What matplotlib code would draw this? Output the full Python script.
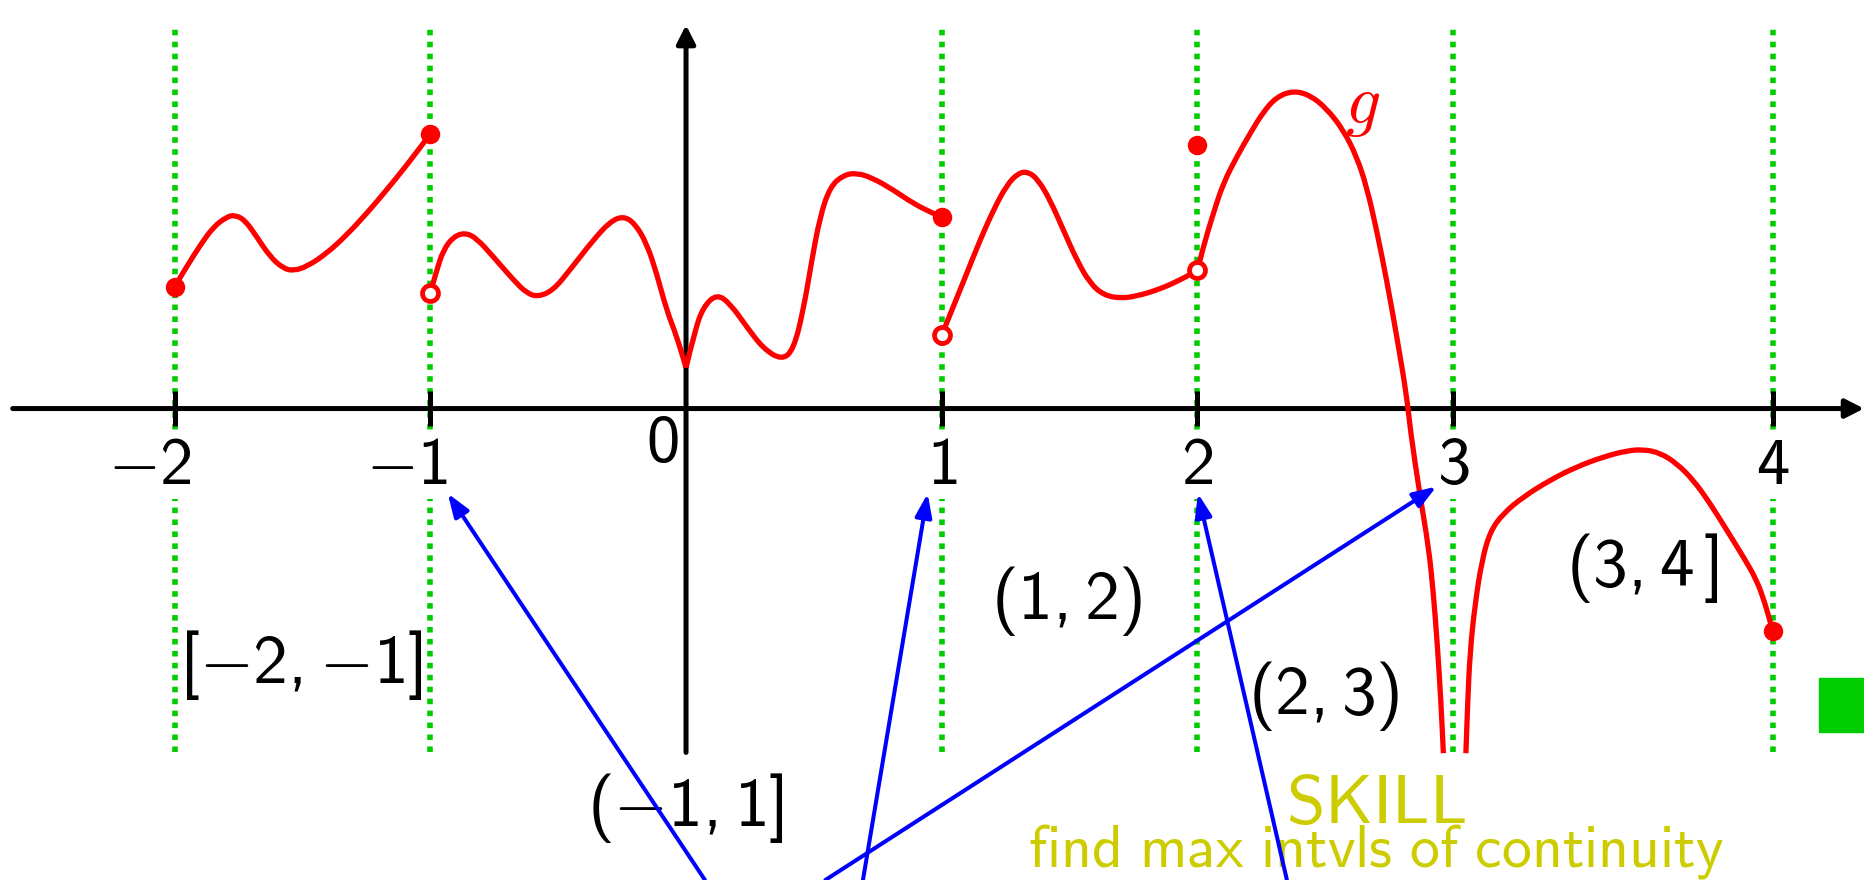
import numpy as np
import matplotlib.pyplot as plt
from matplotlib.patches import Rectangle, PathPatch
from matplotlib.path import Path

plt.rcParams['mathtext.fontset'] = 'custom'
plt.rcParams['mathtext.rm'] = 'cmss10'
plt.rcParams['mathtext.sf'] = 'cmss10'
plt.rcParams['mathtext.it'] = 'cmmi10'

x1 = [-2.0, -1.953, -1.900, -1.848, -1.796, -1.764, -1.725, -1.679, -1.627, -1.575,
      -1.536, -1.483, -1.405, -1.327, -1.249, -1.171, -1.092, -1.0]
y1 = [0.477, 0.555, 0.639, 0.711, 0.750, 0.757, 0.737, 0.672, 0.594, 0.548,
      0.539, 0.555, 0.607, 0.679, 0.763, 0.855, 0.952, 1.074]

# (-1, 0] up to the cusp, then [0, 1]
x2a = [-1.0, -0.975, -0.949, -0.910, -0.864, -0.819, -0.754, -0.675, -0.623, -0.578,
       -0.519, -0.454, -0.363, -0.297, -0.245, -0.200, -0.154, -0.115, -0.076, -0.036,
       0.0]
y2a = [0.453, 0.542, 0.620, 0.672, 0.688, 0.666, 0.594, 0.503, 0.451, 0.437,
       0.463, 0.542, 0.659, 0.731, 0.753, 0.724, 0.646, 0.529, 0.385, 0.281,
       0.160]
x2b = [0.0, 0.035, 0.068, 0.120, 0.172, 0.237, 0.302, 0.374, 0.420, 0.459,
       0.492, 0.524, 0.563, 0.615, 0.668, 0.733, 0.811, 0.889, 0.967, 1.0]
y2b = [0.160, 0.307, 0.398, 0.448, 0.411, 0.320, 0.235, 0.190, 0.229, 0.385,
       0.581, 0.750, 0.867, 0.913, 0.922, 0.900, 0.855, 0.802, 0.763, 0.750]

x3 = [1.0, 1.045, 1.098, 1.150, 1.202, 1.254, 1.300, 1.339, 1.378, 1.424,
      1.476, 1.528, 1.580, 1.633, 1.698, 1.763, 1.841, 1.919, 2.0]
y3 = [0.287, 0.398, 0.529, 0.659, 0.776, 0.874, 0.922, 0.926, 0.894, 0.815,
      0.698, 0.581, 0.490, 0.444, 0.431, 0.440, 0.463, 0.496, 0.540]

x4 = [2.0, 2.023, 2.062, 2.101, 2.154, 2.206, 2.258, 2.310, 2.375, 2.440,
      2.505, 2.571, 2.623, 2.662, 2.701, 2.740, 2.780, 2.819, 2.832, 2.871,
      2.904, 2.923, 2.939, 2.952, 2.962]
y4 = [0.540, 0.633, 0.763, 0.881, 0.985, 1.076, 1.161, 1.219, 1.243, 1.226,
      1.174, 1.089, 0.985, 0.867, 0.698, 0.503, 0.281, 0.046, -0.080, -0.345,
      -0.540, -0.723, -0.932, -1.140, -1.348]

x5 = [3.040, 3.045, 3.053, 3.069, 3.090, 3.116, 3.157, 3.220, 3.303, 3.386,
      3.470, 3.543, 3.595, 3.647, 3.699, 3.752, 3.804, 3.856, 3.908, 3.950,
      3.976, 4.0]
y5 = [-1.348, -1.166, -0.950, -0.762, -0.595, -0.480, -0.410, -0.345, -0.280, -0.228,
      -0.189, -0.165, -0.160, -0.173, -0.214, -0.280, -0.371, -0.475, -0.580, -0.671,
      -0.762, -0.869]

closed_x = [-2, -1, 1, 2, 4]
closed_y = [0.477, 1.074, 0.750, 1.031, -0.869]
open_x = [-1, 1, 2]
open_y = [0.453, 0.287, 0.540]

ticks = [-2, -1, 1, 2, 3, 4]
tick_text = ['-2', '-1', '1', '2', '3', '4']
guides = [-2, -1, 1, 2, 3, 4]

intervals = [r'[{-}2,{-}1]', r'({-}1,1]', r'(1,2)', r'(2,3)', r'(3,4\,]']
int_x = [-1.506, -0.004, 1.490, 2.495, 3.593]
int_y = [-1.003, -1.563, -0.753, -1.124, -0.624]

arrow_tips = [(-0.932, -0.332), (0.945, -0.332), (2.935, -0.305), (2.002, -0.332)]
arrow_tails = [(0.074, -1.844), (0.692, -1.844), (0.545, -1.844), (2.350, -1.844)]

green = '#00cc00'
yellow = '#cccc00'

# the picture draws the unit [3,4] wider than the others
stretch = 1.25


def fwd(x):
    x = np.asarray(x, float)
    return np.where(x > 3, 3 + (x - 3) * stretch, x)


def inv(x):
    x = np.asarray(x, float)
    return np.where(x > 3, 3 + (x - 3) / stretch, x)


def smooth(xs, ys):
    # quadratic bezier pieces with the read points as control points
    p = np.column_stack([xs, ys])
    verts = [p[0]]
    codes = [Path.MOVETO]
    for i in range(1, len(p) - 1):
        verts += [p[i], (p[i] + p[i + 1]) / 2]
        codes += [Path.CURVE3, Path.CURVE3]
    verts.append(p[-1])
    codes.append(Path.LINETO)
    return Path(verts, codes)


fig = plt.figure(figsize=(18.64, 8.8), dpi=100)
ax = fig.add_axes([0, 0, 1, 1])
ax.set_xscale('function', functions=(fwd, inv))
ax.set_xlim(-2.683, 4.2856)
ax.set_ylim(-1.844, 1.598)
ax.axis('off')

# dotted guides
for g in guides:
    ax.plot([g, g], [-1.345, 1.50], color=green, lw=4.0, dashes=(1.0, 1.15),
            dash_capstyle='butt', zorder=1)

# axes with arrows
ax.annotate('', xy=(1.0, 0), xytext=(0.0068, 0), xycoords=('axes fraction', 'data'),
            textcoords=('axes fraction', 'data'),
            arrowprops=dict(arrowstyle='-|>,head_length=0.55,head_width=0.28',
                            lw=3.6, color='black', shrinkA=0, shrinkB=0,
                            mutation_scale=20), zorder=2)
ax.annotate('', xy=(0, 1.50), xytext=(0, -1.345),
            arrowprops=dict(arrowstyle='-|>,head_length=0.55,head_width=0.28',
                            lw=3.6, color='black', shrinkA=0, shrinkB=0,
                            mutation_scale=20), zorder=2)
ax.vlines(ticks, -0.068, 0.068, color='black', lw=3.6, zorder=2)

# the function
for xs, ys in [(x1, y1), (x2a, y2a), (x2b, y2b), (x3, y3), (x4, y4), (x5, y5)]:
    ax.add_patch(PathPatch(smooth(xs, ys), fc='none', ec='red', lw=3.8,
                           joinstyle='round', capstyle='butt', zorder=3))
ax.plot(closed_x, closed_y, 'o', color='red', ms=14, mew=0, zorder=4)
ax.plot(open_x, open_y, 'o', mfc='white', mec='red', ms=11.5, mew=3.4, zorder=4)
ax.text(2.645, 1.184, r'$g$', color='red', fontsize=50, ha='center', va='center')

# tick labels
for t, s in zip(ticks, tick_text):
    if s.startswith('-'):
        ax.text(t + 0.068, -0.22, r'$\mathsf{' + s + '}$', fontsize=48,
                ha='right', va='center', zorder=2.5,
                bbox=dict(fc='white', ec='none', pad=1))
    else:
        ax.text(t, -0.22, r'$\mathsf{' + s + '}$', fontsize=48,
                ha='center', va='center', zorder=2.5,
                bbox=dict(fc='white', ec='none', pad=1))
ax.text(-0.094, -0.135, r'$\mathsf{0}$', fontsize=48, ha='center', va='center')

# interval labels
for s, xi, yi in zip(intervals, int_x, int_y):
    ax.text(xi, yi, r'$\mathsf{' + s + '}$', fontsize=50, ha='center', va='center',
            zorder=5)

# blue pointers
for tip, tail in zip(arrow_tips, arrow_tails):
    ax.annotate('', xy=tip, xytext=tail,
                arrowprops=dict(arrowstyle='-|>,head_length=0.7,head_width=0.25',
                                lw=2.9, color='blue', shrinkA=0, shrinkB=0,
                                mutation_scale=20), zorder=6)

ax.text(2.699, -1.621, r'$\mathsf{SKILL}$', color=yellow, fontsize=50,
        ha='center', va='baseline', zorder=5)
ax.text(2.699, -1.793, r'$\mathsf{find\ max\ intvls\ of\ continuity}$', color=yellow,
        fontsize=43, ha='center', va='baseline', zorder=5)

ax.add_patch(Rectangle((0.9758, 0.168), 0.03, 0.0614, transform=ax.transAxes,
                       color=green, zorder=5))

fig.savefig('out.png', dpi=100)
